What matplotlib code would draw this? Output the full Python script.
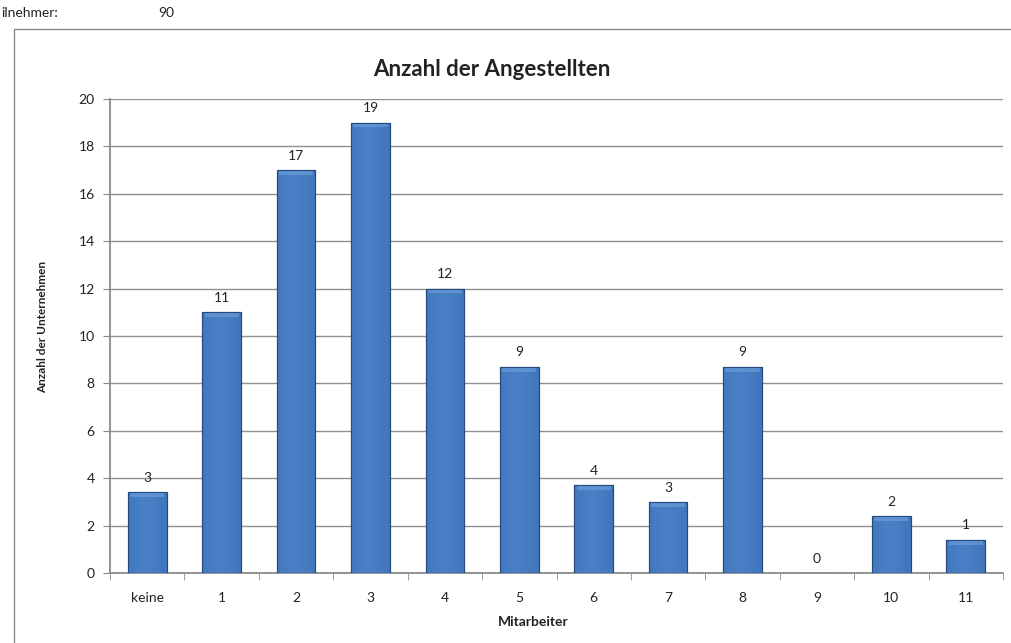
import numpy as np
import matplotlib.pyplot as plt
from matplotlib.patches import Rectangle

plt.rcParams['font.family'] = ['Lato', 'DejaVu Sans']

# data
categories = ["keine", "1", "2", "3", "4", "5", "6", "7", "8", "9", "10", "11"]
bar_heights = [3.4, 11.0, 17.0, 19.0, 12.0, 8.7, 3.7, 3.0, 8.7, 0.0, 2.4, 1.4]
bar_labels = [3, 11, 17, 19, 12, 9, 4, 3, 9, 0, 2, 1]
teilnehmer = 90

fig = plt.figure(figsize=(10.12, 6.43), dpi=100)

# header line above the chart frame (the reference shows it cut off at the left)
fig.text(1 / 1012, 1 - 13 / 643, "ilnehmer:", ha="left", va="center", fontsize=10, color="#222222")
fig.text(166 / 1012, 1 - 13 / 643, str(teilnehmer), ha="center", va="center", fontsize=10, color="#222222")

# chart frame
fig.patches.append(Rectangle((14 / 1012, -0.1), 1.2, (643 - 29) / 643 + 0.1,
                             transform=fig.transFigure, fill=False, edgecolor="#8a8a8a", linewidth=1))

ax = fig.add_axes([110 / 1012, (643 - 573) / 643, (1003 - 110) / 1012, (573 - 99) / 643])

x = np.arange(len(categories))
bars = ax.bar(x, bar_heights, width=0.52, color="#3a6db2", edgecolor="#2b5590", linewidth=0.8, zorder=3)

# horizontal shading to mimic the bevelled bars
grad = np.linspace(0, 1, 64)
shade = np.clip(1 - np.abs(grad - 0.45) * 1.1, 0, 1) ** 0.6
cmap = plt.matplotlib.colors.LinearSegmentedColormap.from_list("b", ["#234f8c", "#3f74ba", "#4a80c6"])
for b in bars:
    h = b.get_height()
    if h <= 0:
        continue
    x0 = b.get_x()
    w = b.get_width()
    im = ax.imshow(shade[np.newaxis, :], cmap=cmap, aspect="auto", extent=(x0, x0 + w, 0, h), zorder=3.5,
                   vmin=0, vmax=1)
    im.set_clip_path(b)
    ax.add_patch(Rectangle((x0 + 0.03, h - 0.2), w - 0.06, 0.17, facecolor="#6fa2dc", edgecolor="none",
                           alpha=0.6, zorder=4))
    ax.add_patch(Rectangle((x0, 0), w, h, fill=False, edgecolor="#25497c", linewidth=0.8, zorder=4.5))

for xi, h, lab in zip(x, bar_heights, bar_labels):
    ax.annotate(str(lab), (xi, h), xytext=(0, 6), textcoords="offset points",
                ha="center", va="bottom", fontsize=10, color="#222222")

ax.set_xlim(-0.5, len(categories) - 0.5)
ax.set_ylim(0, 20)
ax.set_yticks(np.arange(0, 21, 2))
ax.set_xticks(x)
ax.set_xticklabels(categories)
ax.set_xticks(np.arange(-0.5, len(categories), 1), minor=True)
ax.tick_params(axis="x", which="major", length=0, pad=14, labelsize=10, colors="#222222")
ax.tick_params(axis="x", which="minor", length=5, color="#8a8a8a")
ax.tick_params(axis="y", length=5, color="#8a8a8a", labelsize=10, labelcolor="#222222", pad=6)

ax.grid(axis="y", color="#8f8f8f", linewidth=1.0, zorder=0)
ax.set_axisbelow(True)
for s in ["top", "right"]:
    ax.spines[s].set_visible(False)
for s in ["left", "bottom"]:
    ax.spines[s].set_color("#8a8a8a")
    ax.spines[s].set_linewidth(1.3)

fig.text(492 / 1012, 1 - 70 / 643, "Anzahl der Angestellten", ha="center", va="center",
         fontsize=16, fontweight="bold", color="#222222")
fig.text(43 / 1012, 1 - 327 / 643, "Anzahl der Unternehmen", ha="center", va="center", rotation=90,
         fontsize=8.5, fontweight="bold", color="#222222")
fig.text(533 / 1012, 1 - 622 / 643, "Mitarbeiter", ha="center", va="center",
         fontsize=10, fontweight="bold", color="#222222")

fig.savefig("out.png", dpi=100)
